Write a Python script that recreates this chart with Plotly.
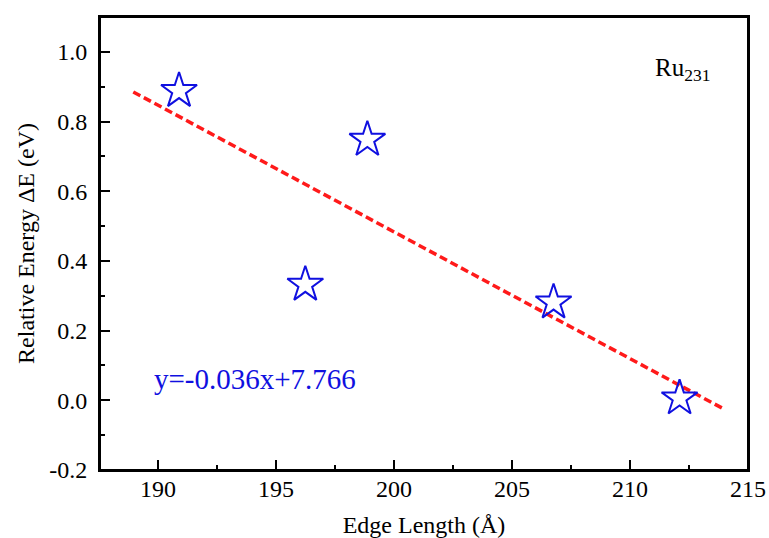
import plotly.graph_objects as go

edge_length = [190.89, 196.24, 198.87, 206.76, 212.1]
rel_energy = [0.888, 0.332, 0.748, 0.281, 0.006]
fit_x = [188.95, 213.95]
fit_y = [0.885, -0.024]
x_ticks = [190, 195, 200, 205, 210, 215]
y_ticks = [-0.2, 0.0, 0.2, 0.4, 0.6, 0.8, 1.0]
y_tick_text = ["-0.2", "0.0", "0.2", "0.4", "0.6", "0.8", "1.0"]

font_family = "'Times New Roman', 'Liberation Serif', 'DejaVu Serif', serif"

fig = go.Figure()
fig.add_trace(go.Scatter(x=fit_x, y=fit_y, mode="lines",
                         line=dict(color="#ff1a1a", width=3.5, dash="8px,4px"),
                         showlegend=False))
fig.add_trace(go.Scatter(x=edge_length, y=rel_energy, mode="markers",
                         marker=dict(symbol="star-open", size=27, color="#1010e0",
                                     line=dict(width=2, color="#1010e0")),
                         showlegend=False))

fig.add_annotation(x=189.75, y=0.06, xref="x", yref="y", xanchor="left", yanchor="middle",
                   text="y=-0.036x+7.766", showarrow=False,
                   font=dict(family=font_family, size=29, color="#1010e0"))
fig.add_annotation(x=0.853, y=0.885, xref="paper", yref="paper", xanchor="left", yanchor="middle",
                   text="Ru<sub>231</sub>", showarrow=False,
                   font=dict(family=font_family, size=25, color="black"))

axis_common = dict(showline=True, linecolor="black", linewidth=2, mirror=True,
                   ticks="inside", ticklen=10, tickwidth=2, tickcolor="black",
                   showgrid=False, zeroline=False, automargin=False,
                   tickfont=dict(family=font_family, size=24, color="black"),
                   title_font=dict(family=font_family, size=24, color="black"))

fig.update_xaxes(range=[187.54, 215], tickvals=x_ticks, ticklabelstandoff=-4,
                 minor=dict(ticks="inside", ticklen=5, tickwidth=2, tickcolor="black", dtick=2.5),
                 title_text="Edge Length (Å)", title_standoff=16, **axis_common)
fig.update_yaxes(range=[-0.2, 1.1], tickvals=y_ticks, ticktext=y_tick_text, ticklabelstandoff=6,
                 minor=dict(ticks="inside", ticklen=5, tickwidth=2, tickcolor="black", dtick=0.1),
                 title_text="Relative Energy ΔE (eV)", title_standoff=8, **axis_common)

fig.add_shape(type="rect", xref="paper", yref="paper", x0=0, y0=0, x1=1, y1=1,
              line=dict(color="black", width=2), layer="above")

fig.update_layout(width=769, height=538, margin=dict(l=100, r=21, t=17, b=68),
                  font=dict(family=font_family),
                  plot_bgcolor="white", paper_bgcolor="white")

# remove the default page margin so the figure fills the window exactly
fig.write_html("out.html",
               config={"displayModeBar": False},
               post_script="document.body.style.margin='0';document.body.style.overflow='hidden';")
